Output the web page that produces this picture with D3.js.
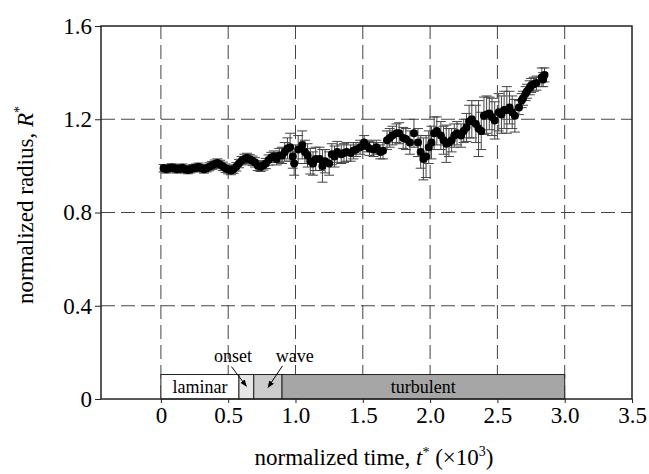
<!DOCTYPE html>
<html>
<head>
<meta charset="utf-8">
<script src="https://cdn.jsdelivr.net/npm/d3@7"></script>
<style>
  body { margin: 0; background: #fff; }
  text { font-family: "Liberation Serif", "Times New Roman", serif; fill: #000; }
</style>
</head>
<body>
<div id="chart"></div>
<script>
// Data
const timeVals = [0.02,0.04,0.06,0.08,0.10,0.12,0.14,0.16,0.18,0.20,0.22,0.24,0.26,0.28,0.30,0.32,0.34,0.36,0.38,0.40,
  0.42,0.44,0.46,0.48,0.50,0.52,0.54,0.56,0.58,0.60,0.62,0.64,0.66,0.68,0.70,0.72,0.74,0.76,0.78,0.80,
  0.82,0.84,0.86,0.88,0.90,0.92,0.94,0.96,0.98,0.99,1.02,1.05,1.07,1.09,1.11,1.13,1.15,1.18,1.20,1.22,
  1.25,1.27,1.29,1.31,1.34,1.36,1.38,1.41,1.43,1.45,1.48,1.51,1.53,1.55,1.58,1.60,1.63,1.65,1.68,1.70,
  1.72,1.75,1.77,1.80,1.82,1.85,1.88,1.91,1.93,1.95,1.97,1.99,2.01,2.03,2.05,2.08,2.10,2.12,2.14,2.16,
  2.18,2.20,2.23,2.25,2.27,2.29,2.31,2.34,2.36,2.38,2.40,2.42,2.44,2.46,2.48,2.51,2.53,2.55,2.57,2.59,
  2.61,2.63,2.66,2.68,2.69,2.71,2.72,2.74,2.75,2.77,2.79,2.83,2.84,2.85];
const radiusVals = [0.990,0.985,0.990,0.993,0.990,0.985,0.988,0.992,0.986,0.982,0.986,0.990,0.992,0.996,0.990,0.985,0.990,0.996,1.002,1.008,
  1.012,1.006,0.998,0.990,0.984,0.980,0.986,0.996,1.010,1.022,1.030,1.034,1.028,1.022,1.015,1.000,0.996,1.002,1.010,1.025,
  1.036,1.040,1.030,1.045,1.045,1.060,1.075,1.080,1.040,1.010,1.070,1.090,1.060,1.045,1.020,1.010,1.030,1.030,1.000,1.020,
  1.010,1.050,1.040,1.060,1.050,1.055,1.060,1.055,1.065,1.070,1.080,1.100,1.085,1.075,1.070,1.080,1.060,1.065,1.110,1.120,
  1.130,1.140,1.140,1.120,1.115,1.100,1.140,1.100,1.060,1.030,1.040,1.080,1.100,1.140,1.150,1.130,1.110,1.095,1.100,1.110,
  1.130,1.140,1.130,1.150,1.165,1.190,1.200,1.180,1.160,1.150,1.215,1.220,1.225,1.210,1.195,1.230,1.220,1.240,1.240,1.250,
  1.230,1.215,1.250,1.280,1.290,1.310,1.320,1.335,1.345,1.350,1.355,1.380,1.370,1.390];
const errorVals = [0.016,0.016,0.016,0.016,0.016,0.016,0.016,0.016,0.016,0.016,0.016,0.016,0.016,0.016,0.016,0.016,0.016,0.017,0.017,0.017,
  0.018,0.018,0.018,0.018,0.018,0.018,0.018,0.018,0.018,0.018,0.020,0.020,0.020,0.020,0.020,0.020,0.020,0.020,0.022,0.022,
  0.022,0.024,0.026,0.030,0.035,0.040,0.045,0.060,0.050,0.050,0.060,0.060,0.050,0.050,0.055,0.050,0.050,0.050,0.070,0.050,
  0.050,0.045,0.045,0.045,0.040,0.040,0.040,0.035,0.035,0.030,0.030,0.030,0.025,0.030,0.030,0.030,0.030,0.035,0.040,0.040,
  0.040,0.040,0.045,0.045,0.045,0.050,0.060,0.060,0.070,0.090,0.090,0.070,0.070,0.070,0.060,0.060,0.060,0.080,0.060,0.050,
  0.050,0.050,0.050,0.050,0.060,0.070,0.080,0.080,0.120,0.080,0.080,0.080,0.070,0.080,0.080,0.080,0.080,0.080,0.100,0.070,
  0.070,0.070,0.030,0.030,0.030,0.030,0.030,0.030,0.030,0.030,0.030,0.040,0.030,0.030];

const xTicks = [0, 0.5, 1.0, 1.5, 2.0, 2.5, 3.0, 3.5];
const yTicks = [0, 0.4, 0.8, 1.2, 1.6];
const xGrid = [0, 0.5, 1.0, 1.5, 2.0, 2.5, 3.0];
const yGrid = [0.4, 0.8, 1.2];

// Flow regimes shown as boxes along the bottom
const regimeNames = ["laminar", "onset", "wave", "turbulent"];
const regimeStart = [0, 0.58, 0.69, 0.90];
const regimeEnd = [0.58, 0.69, 0.90, 3.0];
const regimeFill = ["#ffffff", "#e6e6e6", "#cccccc", "#a6a6a6"];
const regimeInside = [true, false, false, true];
const regimeHeight = 0.105;

// Labels above the two narrow boxes, with arrows (data units)
const calloutText = ["onset", "wave"];
const calloutPos = [[0.536, 0.16], [0.994, 0.16]];
const arrowFrom = [[0.524, 0.139], [0.903, 0.142]];
const arrowTo = [[0.635, 0.055], [0.796, 0.050]];

const W = 649, H = 474;
const margin = {top: 26, right: 17, bottom: 75, left: 101};
const width = W - margin.left - margin.right;
const height = H - margin.top - margin.bottom;

const svg = d3.select("#chart").append("svg")
    .attr("width", W).attr("height", H);

const defs = svg.append("defs");
defs.append("marker")
    .attr("id", "arrow")
    .attr("viewBox", "0 0 10 10")
    .attr("refX", 9).attr("refY", 5)
    .attr("markerWidth", 7).attr("markerHeight", 7)
    .attr("orient", "auto")
    .append("path")
    .attr("d", "M0,1 L10,5 L0,9 Z")
    .attr("fill", "#000");

const g = svg.append("g")
    .attr("transform", `translate(${margin.left},${margin.top})`);

const x = d3.scaleLinear().domain([-0.445, 3.5]).range([0, width]);
const y = d3.scaleLinear().domain([0, 1.6]).range([height, 0]);

const fmt = d => d === 0 ? "0" : d.toFixed(1);

// Dashed grid
g.append("g").selectAll("line")
    .data(yGrid).enter().append("line")
    .attr("x1", 0).attr("x2", width)
    .attr("y1", d => y(d)).attr("y2", d => y(d))
    .attr("stroke", "#444").attr("stroke-width", 1)
    .attr("stroke-dasharray", "14,6");

g.append("g").selectAll("line")
    .data(xGrid).enter().append("line")
    .attr("x1", d => x(d)).attr("x2", d => x(d))
    .attr("y1", y(0)).attr("y2", y(1.6))
    .attr("stroke", "#444").attr("stroke-width", 1)
    .attr("stroke-dasharray", "14,6");

// Regime boxes
const regimes = regimeNames.map((n, i) => ({
    name: n, x0: regimeStart[i], x1: regimeEnd[i], fill: regimeFill[i], inside: regimeInside[i]
}));

g.append("g").selectAll("rect")
    .data(regimes).enter().append("rect")
    .attr("x", d => x(d.x0))
    .attr("y", y(regimeHeight))
    .attr("width", d => x(d.x1) - x(d.x0))
    .attr("height", y(0) - y(regimeHeight))
    .attr("fill", d => d.fill)
    .attr("stroke", "#222").attr("stroke-width", 1);

g.append("g").selectAll("text")
    .data(regimes.filter(d => d.inside)).enter().append("text")
    .attr("x", d => x((d.x0 + d.x1) / 2))
    .attr("y", y(regimeHeight / 2))
    .attr("dy", "0.35em")
    .attr("text-anchor", "middle")
    .style("font-size", "18px")
    .text(d => d.name);

g.append("g").selectAll("text")
    .data(calloutText).enter().append("text")
    .attr("x", (d, i) => x(calloutPos[i][0]))
    .attr("y", (d, i) => y(calloutPos[i][1]))
    .attr("text-anchor", "middle")
    .style("font-size", "18px")
    .text(d => d);

g.append("g").selectAll("line")
    .data(calloutText).enter().append("line")
    .attr("x1", (d, i) => x(arrowFrom[i][0]))
    .attr("y1", (d, i) => y(arrowFrom[i][1]))
    .attr("x2", (d, i) => x(arrowTo[i][0]))
    .attr("y2", (d, i) => y(arrowTo[i][1]))
    .attr("stroke", "#000").attr("stroke-width", 1)
    .attr("marker-end", "url(#arrow)");

// Data points with error bars
const points = timeVals.map((t, i) => ({t: t, r: radiusVals[i], e: errorVals[i]}));

const bars = g.append("g")
    .attr("stroke", "#444").attr("stroke-width", 1);

bars.selectAll(".stem")
    .data(points).enter().append("line")
    .attr("class", "stem")
    .attr("x1", d => x(d.t)).attr("x2", d => x(d.t))
    .attr("y1", d => y(d.r - d.e)).attr("y2", d => y(d.r + d.e));

bars.selectAll(".capHi")
    .data(points).enter().append("line")
    .attr("class", "capHi")
    .attr("x1", d => x(d.t) - 5).attr("x2", d => x(d.t) + 5)
    .attr("y1", d => y(d.r + d.e)).attr("y2", d => y(d.r + d.e));

bars.selectAll(".capLo")
    .data(points).enter().append("line")
    .attr("class", "capLo")
    .attr("x1", d => x(d.t) - 5).attr("x2", d => x(d.t) + 5)
    .attr("y1", d => y(d.r - d.e)).attr("y2", d => y(d.r - d.e));

g.append("g").selectAll("circle")
    .data(points).enter().append("circle")
    .attr("cx", d => x(d.t)).attr("cy", d => y(d.r))
    .attr("r", 4)
    .attr("fill", "#000");

// Frame
g.append("rect")
    .attr("x", 0).attr("y", 0)
    .attr("width", width).attr("height", height)
    .attr("fill", "none")
    .attr("stroke", "#222").attr("stroke-width", 1.5);

// Axes
const xAxis = g.append("g")
    .attr("transform", `translate(0,${height})`)
    .call(d3.axisBottom(x).tickValues(xTicks).tickSize(4).tickPadding(4).tickFormat(fmt));
xAxis.select(".domain").remove();
xAxis.selectAll("text").style("font-size", "23px");
xAxis.selectAll("line").attr("stroke", "#222");

const yAxis = g.append("g")
    .call(d3.axisLeft(y).tickValues(yTicks).tickSize(6).tickPadding(3).tickFormat(fmt));
yAxis.select(".domain").remove();
yAxis.selectAll("text").style("font-size", "23px");
yAxis.selectAll("line").attr("stroke", "#222");

// Axis titles
const xTitle = svg.append("text")
    .attr("x", 374).attr("y", 465)
    .attr("text-anchor", "middle")
    .style("font-size", "23px");
xTitle.append("tspan").text("normalized time, ");
xTitle.append("tspan").style("font-style", "italic").text("t");
xTitle.append("tspan").attr("dy", -8).style("font-size", "14px").text("*");
xTitle.append("tspan").attr("dy", 8).text(" (×10");
xTitle.append("tspan").attr("dy", -9).style("font-size", "14px").text("3");
xTitle.append("tspan").attr("dy", 9).text(")");

const yTitle = svg.append("text")
    .attr("transform", "translate(33,205) rotate(-90)")
    .attr("text-anchor", "middle")
    .style("font-size", "23px");
yTitle.append("tspan").text("normalized radius, ");
yTitle.append("tspan").style("font-style", "italic").text("R");
yTitle.append("tspan").attr("dy", -9).style("font-size", "14px").text("*");
</script>
</body>
</html>
